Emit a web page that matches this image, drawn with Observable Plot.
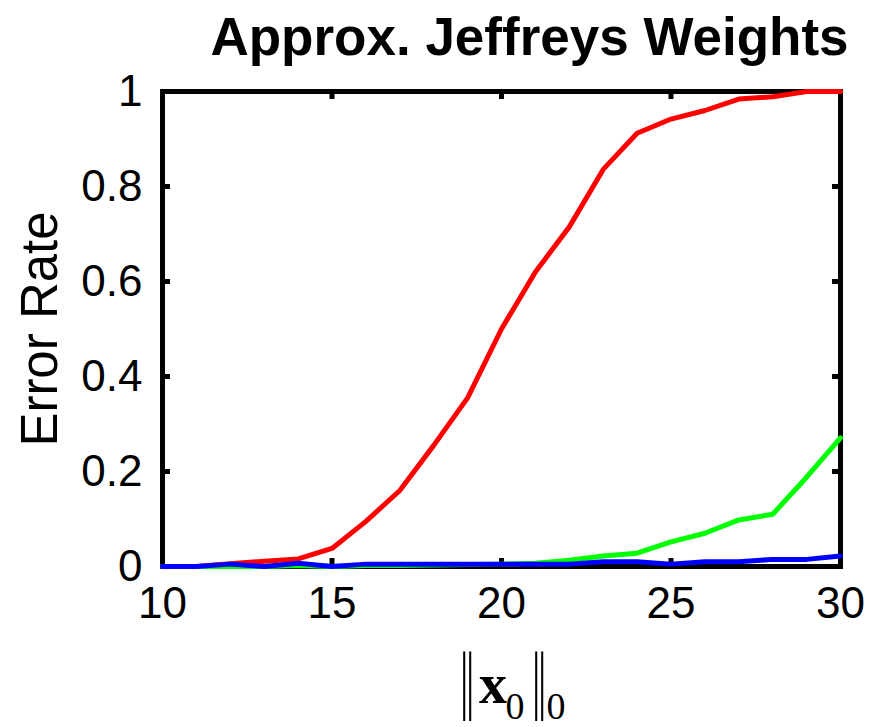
<!DOCTYPE html>
<html>
<head>
<meta charset="utf-8">
<script src="https://cdn.jsdelivr.net/npm/d3@7"></script>
<script src="https://cdn.jsdelivr.net/npm/@observablehq/plot@0.6"></script>
<style>
  html, body { margin: 0; padding: 0; background: #fff; }
  #chart { width: 875px; height: 727px; }
</style>
</head>
<body>
<div id="chart"></div>
<script>
const sparsity = [10,11,12,13,14,15,16,17,18,19,20,21,22,23,24,25,26,27,28,29,30];
const redErr   = [0,0,0.006,0.011,0.016,0.038,0.095,0.16,0.255,0.355,0.5,0.62,0.715,0.836,0.912,0.942,0.96,0.984,0.989,1.0,1.0];
const greenErr = [0,0,0,0,0.002,0,0.002,0.002,0.003,0.004,0.005,0.007,0.013,0.022,0.028,0.052,0.07,0.098,0.11,0.188,0.271];
const blueErr  = [0,0,0.005,0,0.007,0,0.005,0.005,0.005,0.005,0.005,0.005,0.005,0.01,0.01,0.005,0.01,0.01,0.015,0.015,0.022];
const xTicks = [10,15,20,25,30];
const yTicks = [0,0.2,0.4,0.6,0.8,1];
const yTickLabels = ["0","0.2","0.4","0.6","0.8","1"];
const titleText = "Approx. Jeffreys Weights";
const yLabelText = "Error Rate";

const series = [
  {name: "s1", color: "#ff0000", values: redErr},
  {name: "s2", color: "#00ff00", values: greenErr},
  {name: "s3", color: "#0000ff", values: blueErr}
];
const rows = series.flatMap(s => s.values.map((v, i) => ({x: sparsity[i], y: v, s: s.name})));

const W = 875, H = 727, ML = 162, MR = 35, MT = 91, MB = 161;
const PW = W - ML - MR, PH = H - MT - MB, TL = 8;
const font = "Liberation Sans, Arial, Helvetica, sans-serif";
const chart = Plot.plot({
  width: W,
  height: H,
  marginLeft: ML,
  marginRight: MR,
  marginTop: MT,
  marginBottom: MB,
  style: {fontFamily: font, background: "white", color: "black"},
  x: {domain: [10, 30]},
  y: {domain: [0, 1]},
  color: {domain: series.map(s => s.name), range: series.map(s => s.color)},
  marks: [
    Plot.frame({stroke: "black", strokeWidth: 5}),
    Plot.tickX(xTicks, {x: d => d, insetTop: PH - TL, strokeWidth: 5}),
    Plot.tickX(xTicks, {x: d => d, insetBottom: PH - TL, strokeWidth: 5}),
    Plot.tickY(yTicks, {y: d => d, insetRight: PW - TL, strokeWidth: 5}),
    Plot.tickY(yTicks, {y: d => d, insetLeft: PW - TL, strokeWidth: 5}),
    Plot.axisX(xTicks, {anchor: "bottom", tickSize: 0, tickPadding: 20, fontSize: 44, label: null, tickFormat: d => String(d)}),
    Plot.axisY(yTicks, {anchor: "left", tickSize: 0, tickPadding: 20, fontSize: 44, label: null, tickFormat: (d, i) => yTickLabels[i]}),
    Plot.line(rows, {x: "x", y: "y", z: "s", stroke: "s", strokeWidth: 5, strokeLinejoin: "round"}),
    Plot.text([yLabelText], {frameAnchor: "left", textAnchor: "middle", rotate: -90, dx: -122, fontSize: 51, text: d => d}),
    Plot.text([titleText], {frameAnchor: "top", textAnchor: "middle", dy: -74, dx: 28, fontSize: 53, fontWeight: "bold", text: d => d})
  ]
});
document.getElementById("chart").appendChild(chart);

// x-axis label: ||x_0||_0 with bold x (serif)
const svg = d3.select(chart);
const g = svg.append("g")
  .attr("font-family", "Liberation Serif, Times New Roman, serif")
  .attr("fill", "black")
  .attr("text-anchor", "middle");
for (const bx of [466, 538]) {
  g.append("text").attr("transform", `translate(${bx},705) scale(0.55,1)`)
    .attr("font-size", 76).attr("letter-spacing", -4.3).text("||");
}
g.append("text").attr("x", 493).attr("y", 703).attr("font-size", 56).attr("font-weight", "bold").text("x");
g.append("text").attr("x", 515).attr("y", 719).attr("font-size", 38).text("0");
g.append("text").attr("x", 556).attr("y", 719).attr("font-size", 38).text("0");
</script>
</body>
</html>
